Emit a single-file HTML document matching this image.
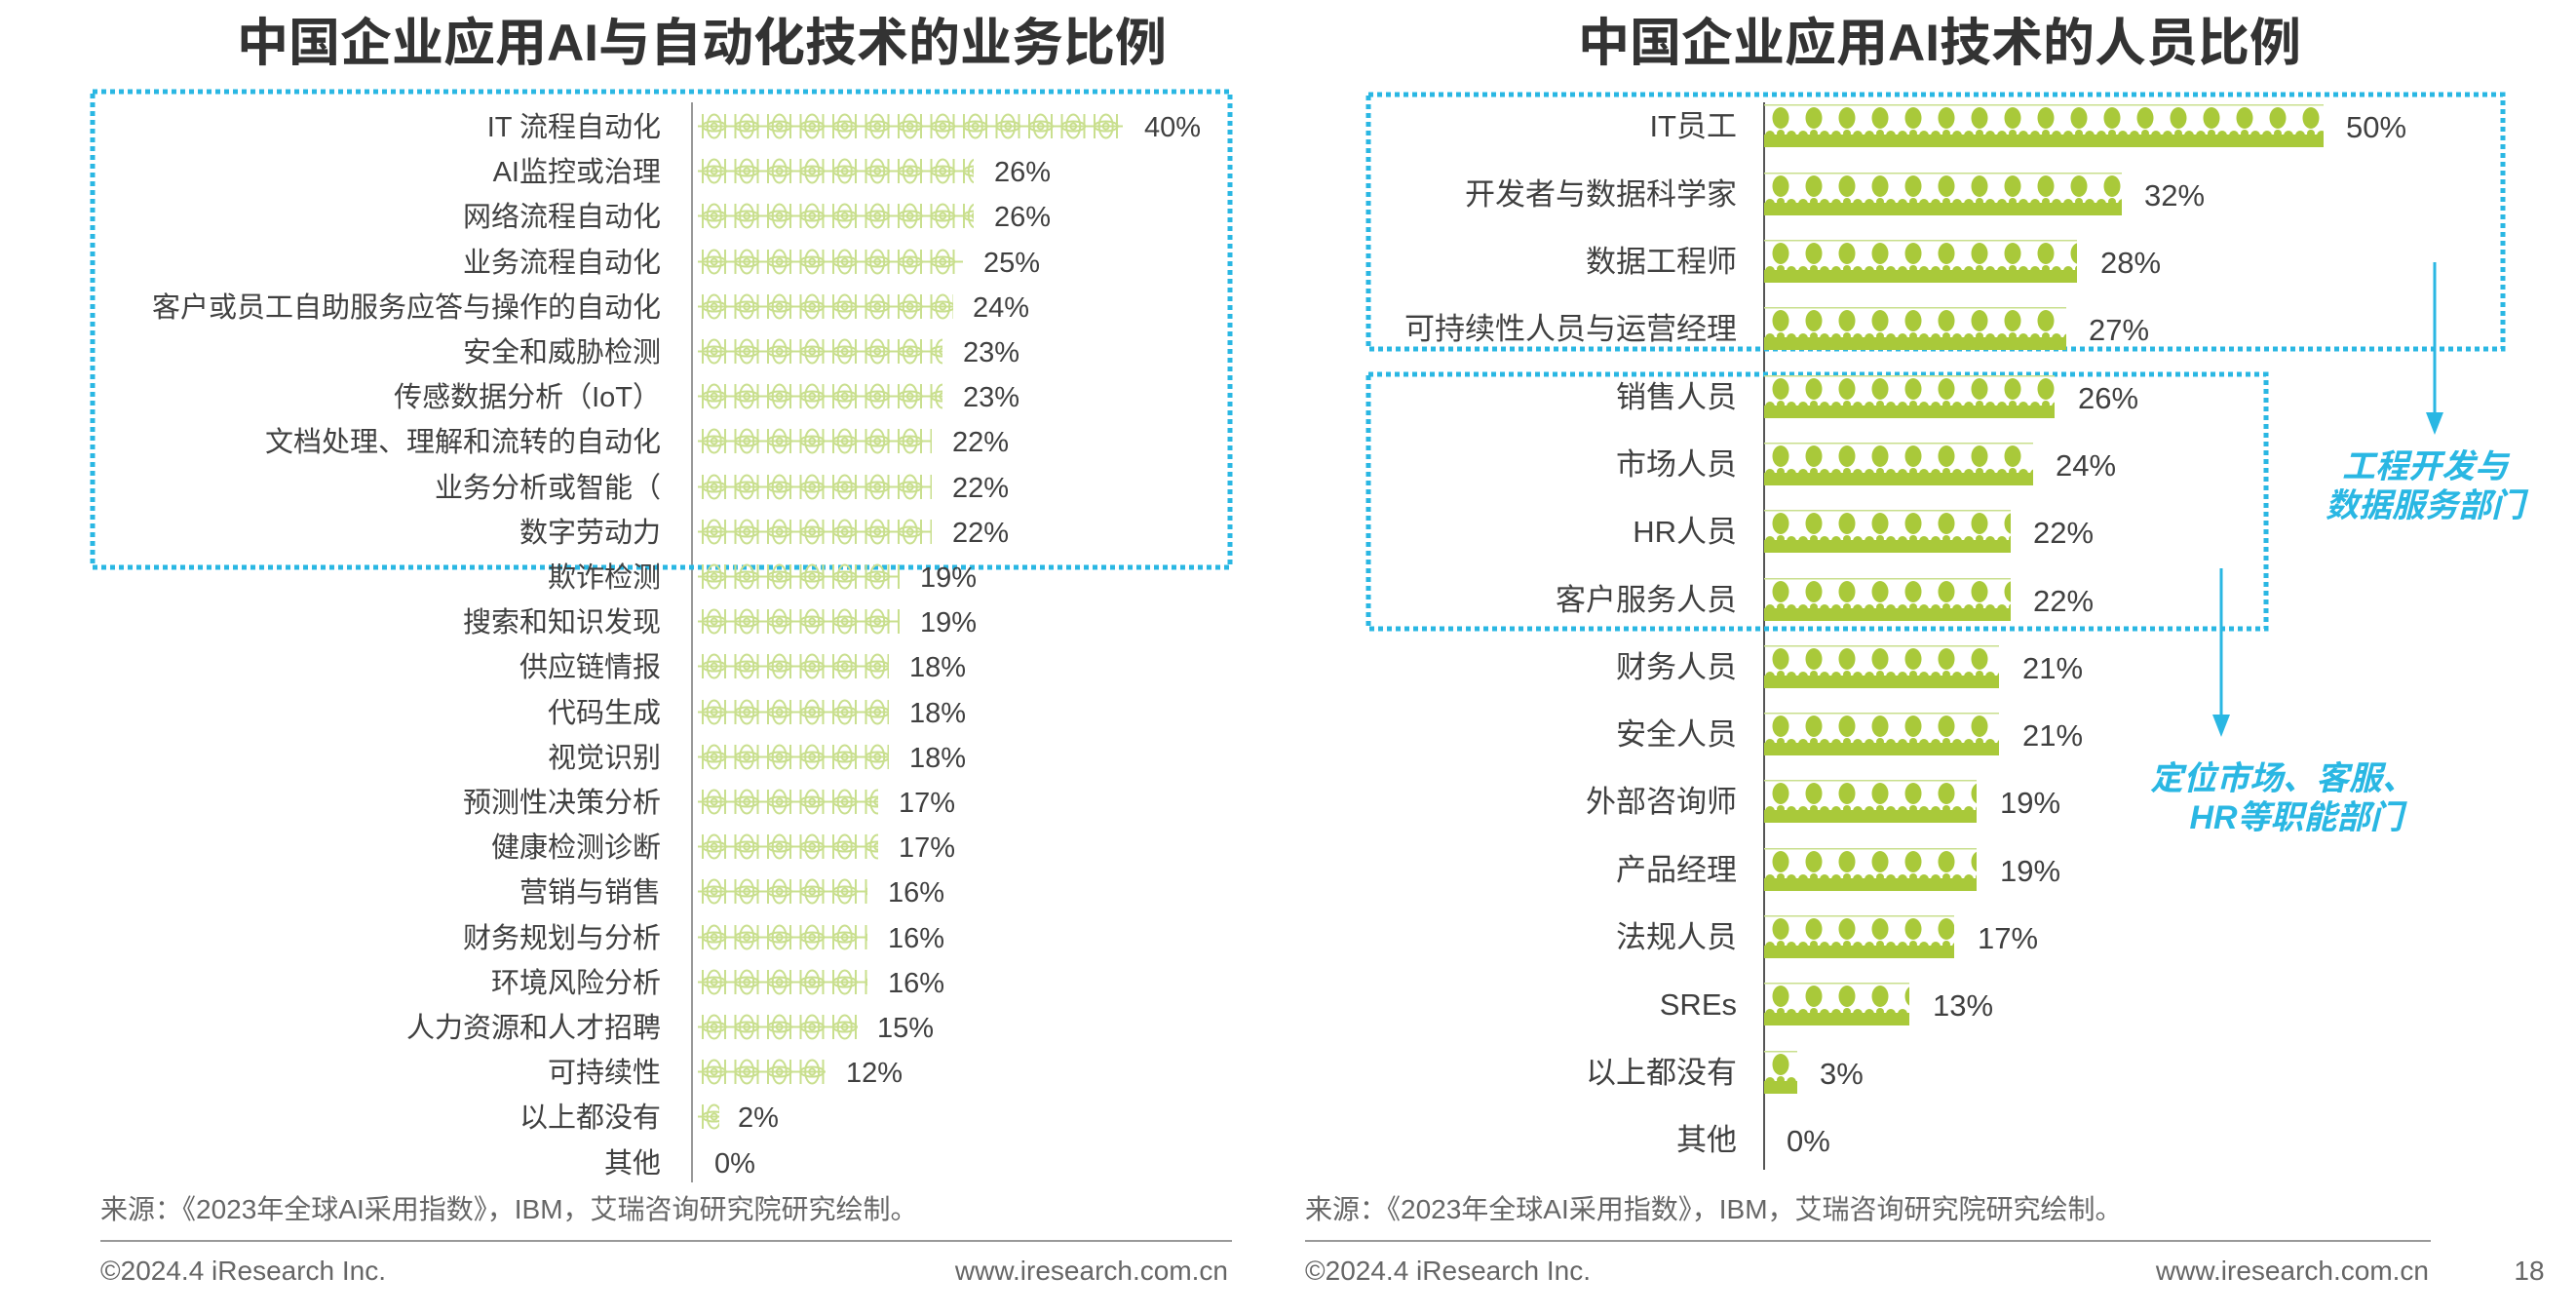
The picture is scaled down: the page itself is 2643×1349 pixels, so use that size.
<!DOCTYPE html>
<html><head><meta charset="utf-8"><style>
html,body{margin:0;padding:0;background:#fff;}
svg{display:block;font-family:"Liberation Sans","Noto Sans CJK SC",sans-serif;}
</style></head><body>
<svg width="2643" height="1349" viewBox="0 0 2643 1349" xmlns="http://www.w3.org/2000/svg">
<defs>
<pattern id="flo" x="716" y="0" width="33.5" height="29" patternUnits="userSpaceOnUse">
<g fill="none" stroke="#c9df8e" stroke-width="2">
<ellipse cx="16.7" cy="14.5" rx="7" ry="12"/>
<ellipse cx="16.7" cy="14.5" rx="12" ry="5"/>
<circle cx="16.7" cy="14.5" r="3"/>
<line x1="0" y1="14.5" x2="33.5" y2="14.5"/>
<line x1="5" y1="2" x2="5" y2="27"/>
<line x1="28" y1="2" x2="28" y2="27"/>
</g>
</pattern>
<pattern id="dots" x="1810" y="0" width="34" height="44" patternUnits="userSpaceOnUse">
<ellipse cx="17" cy="14" rx="8.5" ry="11" fill="#a9c93a"/>
<rect x="0" y="31" width="34" height="13" fill="#a9c93a"/>
<circle cx="6" cy="32" r="5" fill="#a9c93a"/>
<circle cx="17" cy="30" r="4" fill="#a9c93a"/>
<circle cx="28" cy="32" r="5" fill="#a9c93a"/>
<line x1="0" y1="0.75" x2="34" y2="0.75" stroke="#c9df8e" stroke-width="1.5"/>
</pattern>
</defs>

<text x="720" y="62" font-size="53" font-weight="bold" fill="#333" text-anchor="middle">中国企业应用AI与自动化技术的业务比例</text>
<text x="1990" y="62" font-size="53" font-weight="bold" fill="#333" text-anchor="middle">中国企业应用AI技术的人员比例</text>

<line x1="710" y1="105" x2="710" y2="1213" stroke="#999" stroke-width="2"/>
<rect x="95" y="94" width="1167" height="488" fill="none" stroke="#2ab7e3" stroke-width="5" stroke-dasharray="5 4"/>

<line x1="1810" y1="105" x2="1810" y2="1200" stroke="#555" stroke-width="2"/>
<rect x="1404" y="97" width="1164" height="261" fill="none" stroke="#2ab7e3" stroke-width="5" stroke-dasharray="5 4"/>
<rect x="1404" y="384" width="921" height="261" fill="none" stroke="#2ab7e3" stroke-width="5" stroke-dasharray="5 4"/>

<line x1="2498" y1="269" x2="2498" y2="425" stroke="#2ab7e3" stroke-width="3"/>
<polygon points="2489,423 2507,423 2498,446" fill="#2ab7e3"/>
<line x1="2279" y1="583" x2="2279" y2="735" stroke="#2ab7e3" stroke-width="3"/>
<polygon points="2270,733 2288,733 2279,756" fill="#2ab7e3"/>
<g font-size="34" font-weight="bold" font-style="italic" fill="#2ab7e3" text-anchor="middle">
<text x="2488" y="490">工程开发与</text>
<text x="2488" y="530">数据服务部门</text>
<text x="2342" y="810">定位市场、客服、</text>
<text x="2356" y="850">HR等职能部门</text>
</g>

<g font-size="28" fill="#666">
<text x="103" y="1250">来源：《2023年全球AI采用指数》，IBM，艾瑞咨询研究院研究绘制。</text>
<text x="1339" y="1250">来源：《2023年全球AI采用指数》，IBM，艾瑞咨询研究院研究绘制。</text>
<text x="103" y="1313">©2024.4 iResearch Inc.</text>
<text x="1260" y="1313" text-anchor="end">www.iresearch.com.cn</text>
<text x="1339" y="1313">©2024.4 iResearch Inc.</text>
<text x="2492" y="1313" text-anchor="end">www.iresearch.com.cn</text>
<text x="2595" y="1313" text-anchor="middle">18</text>
</g>
<line x1="103" y1="1273" x2="1264" y2="1273" stroke="#999" stroke-width="2"/>
<line x1="1339" y1="1273" x2="2494" y2="1273" stroke="#999" stroke-width="2"/>

<g font-size="29" fill="#404040">
<g text-anchor="end">
<text x="678" y="140">IT 流程自动化</text>
<text x="678" y="186">AI监控或治理</text>
<text x="678" y="232">网络流程自动化</text>
<text x="678" y="279">业务流程自动化</text>
<text x="678" y="325">客户或员工自助服务应答与操作的自动化</text>
<text x="678" y="371">安全和威胁检测</text>
<text x="678" y="417">传感数据分析（IoT）</text>
<text x="678" y="463">文档处理、理解和流转的自动化</text>
<text x="678" y="510">业务分析或智能（</text>
<text x="678" y="556">数字劳动力</text>
<text x="678" y="602">欺诈检测</text>
<text x="678" y="648">搜索和知识发现</text>
<text x="678" y="694">供应链情报</text>
<text x="678" y="741">代码生成</text>
<text x="678" y="787">视觉识别</text>
<text x="678" y="833">预测性决策分析</text>
<text x="678" y="879">健康检测诊断</text>
<text x="678" y="925">营销与销售</text>
<text x="678" y="972">财务规划与分析</text>
<text x="678" y="1018">环境风险分析</text>
<text x="678" y="1064">人力资源和人才招聘</text>
<text x="678" y="1110">可持续性</text>
<text x="678" y="1156">以上都没有</text>
<text x="678" y="1203">其他</text>
</g>
<g fill="url(#flo)">
<g transform="translate(0,115)"><rect x="716" y="0" width="436" height="29"/></g>
<g transform="translate(0,161)"><rect x="716" y="0" width="283" height="29"/></g>
<g transform="translate(0,207)"><rect x="716" y="0" width="283" height="29"/></g>
<g transform="translate(0,254)"><rect x="716" y="0" width="272" height="29"/></g>
<g transform="translate(0,300)"><rect x="716" y="0" width="262" height="29"/></g>
<g transform="translate(0,346)"><rect x="716" y="0" width="251" height="29"/></g>
<g transform="translate(0,392)"><rect x="716" y="0" width="251" height="29"/></g>
<g transform="translate(0,438)"><rect x="716" y="0" width="240" height="29"/></g>
<g transform="translate(0,485)"><rect x="716" y="0" width="240" height="29"/></g>
<g transform="translate(0,531)"><rect x="716" y="0" width="240" height="29"/></g>
<g transform="translate(0,577)"><rect x="716" y="0" width="207" height="29"/></g>
<g transform="translate(0,623)"><rect x="716" y="0" width="207" height="29"/></g>
<g transform="translate(0,669)"><rect x="716" y="0" width="196" height="29"/></g>
<g transform="translate(0,716)"><rect x="716" y="0" width="196" height="29"/></g>
<g transform="translate(0,762)"><rect x="716" y="0" width="196" height="29"/></g>
<g transform="translate(0,808)"><rect x="716" y="0" width="185" height="29"/></g>
<g transform="translate(0,854)"><rect x="716" y="0" width="185" height="29"/></g>
<g transform="translate(0,900)"><rect x="716" y="0" width="174" height="29"/></g>
<g transform="translate(0,947)"><rect x="716" y="0" width="174" height="29"/></g>
<g transform="translate(0,993)"><rect x="716" y="0" width="174" height="29"/></g>
<g transform="translate(0,1039)"><rect x="716" y="0" width="164" height="29"/></g>
<g transform="translate(0,1085)"><rect x="716" y="0" width="131" height="29"/></g>
<g transform="translate(0,1131)"><rect x="716" y="0" width="22" height="29"/></g>
</g>
<text x="1174" y="140">40%</text>
<text x="1020" y="186">26%</text>
<text x="1020" y="232">26%</text>
<text x="1009" y="279">25%</text>
<text x="998" y="325">24%</text>
<text x="988" y="371">23%</text>
<text x="988" y="417">23%</text>
<text x="977" y="463">22%</text>
<text x="977" y="510">22%</text>
<text x="977" y="556">22%</text>
<text x="944" y="602">19%</text>
<text x="944" y="648">19%</text>
<text x="933" y="694">18%</text>
<text x="933" y="741">18%</text>
<text x="933" y="787">18%</text>
<text x="922" y="833">17%</text>
<text x="922" y="879">17%</text>
<text x="911" y="925">16%</text>
<text x="911" y="972">16%</text>
<text x="911" y="1018">16%</text>
<text x="900" y="1064">15%</text>
<text x="868" y="1110">12%</text>
<text x="757" y="1156">2%</text>
<text x="733" y="1203">0%</text>
</g>

<g font-size="31" fill="#404040">
<g text-anchor="end">
<text x="1782" y="140">IT员工</text>
<text x="1782" y="210">开发者与数据科学家</text>
<text x="1782" y="279">数据工程师</text>
<text x="1782" y="348">可持续性人员与运营经理</text>
<text x="1782" y="418">销售人员</text>
<text x="1782" y="487">市场人员</text>
<text x="1782" y="556">HR人员</text>
<text x="1782" y="626">客户服务人员</text>
<text x="1782" y="695">财务人员</text>
<text x="1782" y="764">安全人员</text>
<text x="1782" y="833">外部咨询师</text>
<text x="1782" y="903">产品经理</text>
<text x="1782" y="972">法规人员</text>
<text x="1782" y="1041">SREs</text>
<text x="1782" y="1111">以上都没有</text>
<text x="1782" y="1180">其他</text>
</g>
<g fill="url(#dots)">
<g transform="translate(0,107)"><rect x="1810" y="0" width="574" height="44"/></g>
<g transform="translate(0,177)"><rect x="1810" y="0" width="367" height="44"/></g>
<g transform="translate(0,246)"><rect x="1810" y="0" width="321" height="44"/></g>
<g transform="translate(0,315)"><rect x="1810" y="0" width="310" height="44"/></g>
<g transform="translate(0,385)"><rect x="1810" y="0" width="298" height="44"/></g>
<g transform="translate(0,454)"><rect x="1810" y="0" width="276" height="44"/></g>
<g transform="translate(0,523)"><rect x="1810" y="0" width="253" height="44"/></g>
<g transform="translate(0,593)"><rect x="1810" y="0" width="253" height="44"/></g>
<g transform="translate(0,662)"><rect x="1810" y="0" width="241" height="44"/></g>
<g transform="translate(0,731)"><rect x="1810" y="0" width="241" height="44"/></g>
<g transform="translate(0,800)"><rect x="1810" y="0" width="218" height="44"/></g>
<g transform="translate(0,870)"><rect x="1810" y="0" width="218" height="44"/></g>
<g transform="translate(0,939)"><rect x="1810" y="0" width="195" height="44"/></g>
<g transform="translate(0,1008)"><rect x="1810" y="0" width="149" height="44"/></g>
<g transform="translate(0,1078)"><rect x="1810" y="0" width="34" height="44"/></g>
</g>
<text x="2407" y="141">50%</text>
<text x="2200" y="211">32%</text>
<text x="2155" y="280">28%</text>
<text x="2143" y="349">27%</text>
<text x="2132" y="419">26%</text>
<text x="2109" y="488">24%</text>
<text x="2086" y="557">22%</text>
<text x="2086" y="627">22%</text>
<text x="2075" y="696">21%</text>
<text x="2075" y="765">21%</text>
<text x="2052" y="834">19%</text>
<text x="2052" y="904">19%</text>
<text x="2029" y="973">17%</text>
<text x="1983" y="1042">13%</text>
<text x="1867" y="1112">3%</text>
<text x="1833" y="1181">0%</text>
</g>
</svg>
</body></html>
